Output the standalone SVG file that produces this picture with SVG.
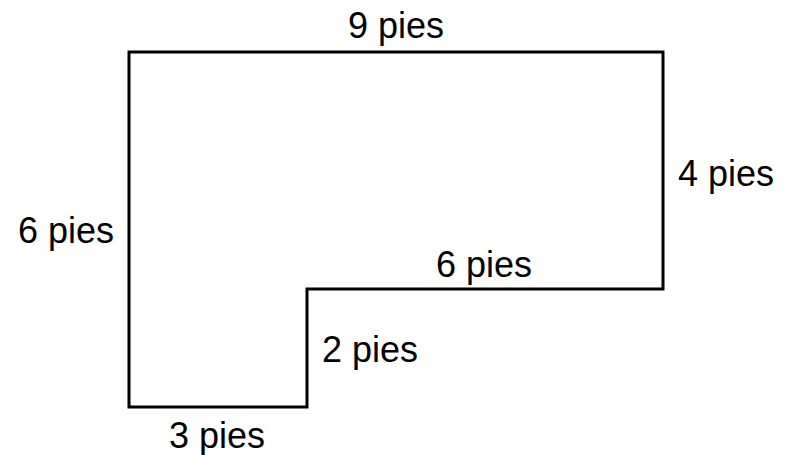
<svg xmlns="http://www.w3.org/2000/svg" width="790" height="455" viewBox="0 0 790 455">
<style>
.lbl{font-family:"Liberation Sans",Arial,sans-serif;font-size:36px;fill:#000}
.shape{fill:none;stroke:#000;stroke-width:3;stroke-linejoin:miter}
</style>
<rect width="790" height="455" fill="#fff"/>
<g id="shape">
<polygon class="shape" points="129,52 663,52 663,289 307,289 307,407 129,407"/>
</g>
<g id="labels">
<text class="lbl" x="348" y="38">9 pies</text>
<text class="lbl" x="678" y="186">4 pies</text>
<text class="lbl" x="18" y="243">6 pies</text>
<text class="lbl" x="436" y="277">6 pies</text>
<text class="lbl" x="322" y="362">2 pies</text>
<text class="lbl" x="169" y="448">3 pies</text>
</g>
</svg>
